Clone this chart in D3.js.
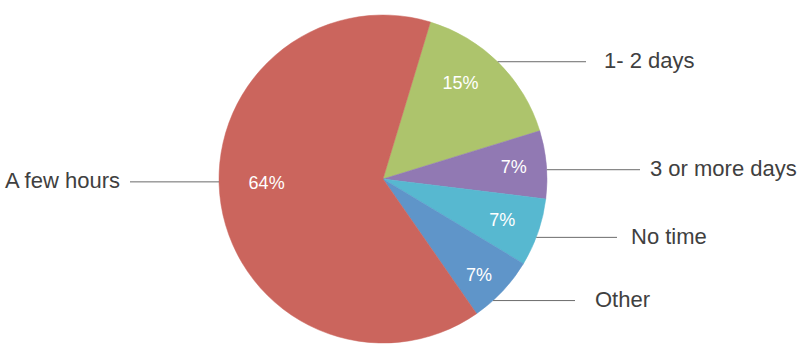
<!DOCTYPE html>
<html>
<head>
<meta charset="utf-8">
<script src="https://cdn.jsdelivr.net/npm/d3@7"></script>
<style>
  html, body { margin: 0; padding: 0; background: #fff; }
  svg { display: block; font-family: "Liberation Sans", Arial, sans-serif; }
</style>
</head>
<body>
<svg id="chart" width="800" height="359"></svg>
<script>
// ---- data ----
const categories = ["1- 2 days", "3 or more days", "No time", "Other", "A few hours"];
const shares = [15.6, 6.7, 6.7, 6.7, 64.4];
const pctLabels = ["15%", "7%", "7%", "7%", "64%"];
const colors = ["#ADC46C", "#9179B3", "#57B8D0", "#5F95C9", "#CB655D"];

// ---- layout ----
const cx = 383, cy = 179, R = 164;
const startDeg = 16.8;
const innerRadFrac = [0.75, 0.80, 0.77, 0.83, 0.71];
const innerAngleNudge = [-5.8, 0, 0, 2, 7.2];
const leaderAngleNudge = [-0.5, 1.8, 1.8, 4.7, 8.0];
const leaderEndX = [586, 640, 617, 575, 130];
const labelGap = [18, 10, 14, 20, 10];

const svg = d3.select("#chart");
const g = svg.append("g").attr("transform", `translate(${cx},${cy})`);
const rad = d => d * Math.PI / 180;

const pie = d3.pie().sort(null).value(d => d)
  .startAngle(rad(startDeg)).endAngle(rad(startDeg + 360));
const arcs = pie(shares);
const arc = d3.arc().innerRadius(0).outerRadius(R);

g.selectAll("path.slice").data(arcs).join("path")
  .attr("class", "slice")
  .attr("d", arc)
  .attr("fill", (d, i) => colors[i])
  .attr("stroke", (d, i) => colors[i])
  .attr("stroke-width", 0.5);

// inner percentage labels
g.selectAll("text.pct").data(arcs).join("text")
  .attr("class", "pct")
  .attr("x", (d, i) => {
    const a = (d.startAngle + d.endAngle) / 2 + rad(innerAngleNudge[i]);
    return Math.sin(a) * R * innerRadFrac[i];
  })
  .attr("y", (d, i) => {
    const a = (d.startAngle + d.endAngle) / 2 + rad(innerAngleNudge[i]);
    return -Math.cos(a) * R * innerRadFrac[i];
  })
  .attr("text-anchor", "middle")
  .attr("dominant-baseline", "central")
  .attr("fill", "#ffffff")
  .attr("font-size", 18)
  .text((d, i) => pctLabels[i]);

// leader lines + category labels
arcs.forEach((d, i) => {
  const a = (d.startAngle + d.endAngle) / 2 + rad(leaderAngleNudge[i]);
  const px = Math.sin(a) * R, py = -Math.cos(a) * R;
  const right = px >= 0;
  const ex = leaderEndX[i] - cx;
  svg.append("line")
    .attr("x1", cx + px).attr("y1", cy + py)
    .attr("x2", cx + ex).attr("y2", cy + py)
    .attr("stroke", "#6b6b6b").attr("stroke-width", 1);
  svg.append("text")
    .attr("x", cx + ex + (right ? labelGap[i] : -labelGap[i]))
    .attr("y", cy + py - 1)
    .attr("text-anchor", right ? "start" : "end")
    .attr("dominant-baseline", "central")
    .attr("fill", "#404040")
    .attr("font-size", 22)
    .text(categories[i]);
});
</script>
</body>
</html>
